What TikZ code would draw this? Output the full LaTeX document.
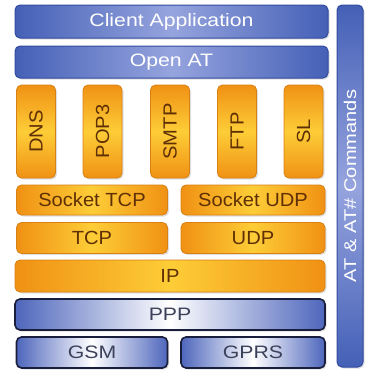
\documentclass[tikz,border=0pt]{standalone}
\usepackage{fontspec}
\setmainfont{Liberation Sans}
\newfontfamily\bluefont[FakeStretch=1.18]{Liberation Sans}
\newfontfamily\orangefont[FakeStretch=1.06]{Liberation Sans}
\usepackage{tikz}
\usetikzlibrary{shapes,shadows}
\definecolor{TopBlue}{RGB}{68,96,182}
\definecolor{TopLight}{RGB}{150,164,222}
\definecolor{TopEdge}{RGB}{50,75,160}
\definecolor{LinkBlue}{RGB}{78,102,188}
\definecolor{LinkEdge}{RGB}{25,30,60}
\definecolor{LinkText}{RGB}{60,65,90}
\definecolor{OrDark}{RGB}{240,145,20}
\definecolor{OrLight}{RGB}{253,205,55}
\definecolor{OrEdge}{RGB}{215,128,20}
\definecolor{OrText}{RGB}{95,48,5}

\begin{document}
\begin{tikzpicture}[x=1pt,y=-1pt]
		\tikzstyle{every node}=[rounded corners=5pt, inner sep=0pt, align=center, drop shadow={shadow xshift=1.5pt, shadow yshift=-1.5pt, opacity=0.25}];
		\tikzstyle{toplayer}=[draw=TopEdge, line width=1pt, left color=TopBlue, right color=TopBlue, middle color=TopLight, text=white, font=\bluefont\fontsize{18}{20}\selectfont];
		\tikzstyle{proto}=[draw=OrEdge, line width=0.8pt, left color=OrDark, right color=OrDark, middle color=OrLight, text=OrText, font=\orangefont\fontsize{19}{21}\selectfont];
		\tikzstyle{protoup}=[proto, rotate=90, top color=OrDark, bottom color=OrDark, middle color=OrLight, minimum width=93, minimum height=39];
		\tikzstyle{link}=[draw=LinkEdge, line width=1.6pt, left color=LinkBlue, right color=LinkBlue, middle color=white, text=LinkText, font=\bluefont\fontsize{18}{20}\selectfont];
		\useasboundingbox (0,0) rectangle (370,370);
		\node [toplayer, minimum width=313, minimum height=33] (app) at (171.5,21.5) {Client Application};
		\node [toplayer, minimum width=313, minimum height=32] (oat) at (171.5,62) {Open AT};
		\node [protoup] (dns) at (36,131.5) {DNS};
		\node [protoup] (pop) at (102.5,131.5) {POP3};
		\node [protoup] (smtp) at (170,131.5) {SMTP};
		\node [protoup] (ftp) at (237,131.5) {FTP};
		\node [protoup] (sl) at (303.5,131.5) {SL};
		\node [proto, minimum width=151, minimum height=30] (stcp) at (92,200) {Socket TCP};
		\node [proto, minimum width=144, minimum height=30] (sudp) at (253,200) {Socket UDP};
		\node [proto, minimum width=151, minimum height=31] (tcp) at (92,238) {TCP};
		\node [proto, minimum width=144, minimum height=31] (udp) at (253,238) {UDP};
		\node [proto, minimum width=310, minimum height=32] (ip) at (170,276) {IP};
		\node [link, minimum width=310, minimum height=31] (ppp) at (170,314.5) {PPP};
		\node [link, minimum width=151, minimum height=31] (gsm) at (92,352.5) {GSM};
		\node [link, minimum width=144, minimum height=31] (gprs) at (253,352.5) {GPRS};
		\node [toplayer, rotate=90, top color=TopBlue, bottom color=TopBlue, middle color=TopLight, minimum width=362, minimum height=26, font=\bluefont\fontsize{17}{19}\selectfont] (atcmd) at (350,186) {AT \& AT\# Commands};
	\end{tikzpicture}
\end{document}
